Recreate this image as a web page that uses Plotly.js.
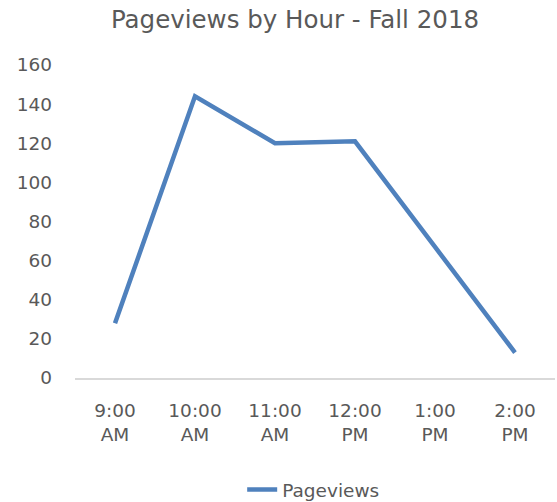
<!DOCTYPE html>
<html>
<head>
<meta charset="utf-8">
<script src="https://cdn.plot.ly/plotly-3.0.1.min.js"></script>
<style>html,body{margin:0;padding:0;background:#fff;}#chart{width:557px;height:502px;}</style>
</head>
<body>
<div id="chart"></div>
<script>
const categories = ["9:00<br>AM", "10:00<br>AM", "11:00<br>AM", "12:00<br>PM", "1:00<br>PM", "2:00<br>PM"];
const pageviews = [28, 144, 120, 121, 67, 13];
const seriesName = "Pageviews";
const yTicks = [0, 20, 40, 60, 80, 100, 120, 140, 160];

const FONT = "DejaVu Sans, Verdana, sans-serif";
const GRAY = "#595959";

Plotly.newPlot("chart", [{
  x: categories,
  y: pageviews,
  name: seriesName,
  type: "scatter",
  mode: "lines",
  line: {color: "#4f81bd", width: 4.5},
  showlegend: true
}], {
  width: 557, height: 502,
  margin: {l: 75, r: 2, t: 65, b: 124},
  paper_bgcolor: "#fff", plot_bgcolor: "#fff",
  font: {family: FONT, color: GRAY, size: 18.5},
  title: {text: "Pageviews by Hour - Fall 2018", font: {family: FONT, size: 24.5, color: GRAY},
          x: 295/557, xref: "container", xanchor: "center", y: 1 - 19/502, yref: "container", yanchor: "middle"},
  xaxis: {type: "category", range: [-0.5, 5.5], showgrid: false, zeroline: false,
          showline: true, linecolor: "#d9d9d9", linewidth: 1.5, ticks: "",
          tickfont: {family: FONT, size: 18.5, color: GRAY}, ticklabelstandoff: 15, fixedrange: true},
  yaxis: {range: [0, 160], tickvals: yTicks, showgrid: false, zeroline: false, showline: false,
          ticks: "", tickfont: {family: FONT, size: 18.5, color: GRAY}, ticklabelstandoff: 22, fixedrange: true},
  legend: {orientation: "h", x: 194/557, xanchor: "left", y: 1 - 490/502, yref: "container", yanchor: "middle",
           font: {family: FONT, size: 18.5, color: GRAY}},
  showlegend: true
}, {displayModeBar: false, staticPlot: true});
</script>
</body>
</html>
